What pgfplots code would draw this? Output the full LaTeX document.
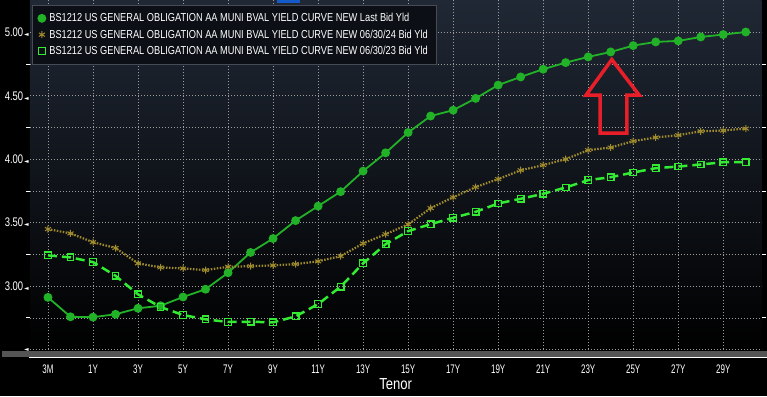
\documentclass[border=0pt]{standalone}
\usepackage{fontspec}
\setmainfont{Liberation Sans}[FakeStretch=0.82]
\newfontfamily\legfont{Liberation Sans}[FakeStretch=0.80]
\newfontfamily\yfont{Liberation Sans}[FakeStretch=0.76]
\newfontfamily\xfont{Liberation Sans}[FakeStretch=0.64]
\newfontfamily\dejavu{DejaVu Sans}
\usepackage{pgfplots}
\usepackage{pgfplotstable}
\pgfplotsset{compat=1.18}

\definecolor{mainG}{RGB}{34,178,40}
\definecolor{yel}{RGB}{160,140,45}
\definecolor{dashG}{RGB}{50,235,50}
\definecolor{bgTop}{RGB}{32,40,53}
\definecolor{gridc}{RGB}{155,155,155}
\definecolor{legfill}{RGB}{12,16,22}
\definecolor{legdraw}{RGB}{70,75,85}
\definecolor{arrowRed}{RGB}{232,30,40}
\definecolor{barGray}{RGB}{85,85,85}
\definecolor{topBlue}{RGB}{20,90,200}

\newcommand{\tri}{{\dejavu\fontsize{6}{6}\selectfont\,◄}}

% index: 0=3M, 1=6M, 2=1Y, n = (n-1)Y
\pgfplotstableread{
i v
0 2.911
1 2.758
2 2.755
3 2.778
4 2.825
5 2.845
6 2.914
7 2.975
8 3.105
9 3.265
10 3.375
11 3.516
12 3.630
13 3.744
14 3.906
15 4.050
16 4.210
17 4.340
18 4.386
19 4.479
20 4.584
21 4.648
22 4.709
23 4.761
24 4.806
25 4.845
26 4.895
27 4.924
28 4.932
29 4.963
30 4.982
31 5.002
}\lastT

\pgfplotstableread{
i v
0 3.449
1 3.415
2 3.346
3 3.300
4 3.179
5 3.147
6 3.139
7 3.126
8 3.152
9 3.157
10 3.163
11 3.173
12 3.195
13 3.236
14 3.336
15 3.409
16 3.486
17 3.614
18 3.700
19 3.780
20 3.843
21 3.913
22 3.953
23 4.000
24 4.071
25 4.092
26 4.142
27 4.171
28 4.189
29 4.220
30 4.226
31 4.241
}\yrA

\pgfplotstableread{
i v
0 3.242
1 3.226
2 3.189
3 3.081
4 2.935
5 2.835
6 2.772
7 2.738
8 2.717
9 2.719
10 2.714
11 2.761
12 2.858
13 2.995
14 3.179
15 3.330
16 3.433
17 3.488
18 3.538
19 3.585
20 3.651
21 3.688
22 3.727
23 3.777
24 3.835
25 3.858
26 3.895
27 3.929
28 3.942
29 3.958
30 3.976
31 3.976
}\yrB

\begin{document}
\begin{tikzpicture}
\fill[black] (-30bp,-44bp) rectangle (737bp,352bp);
\begin{axis}[
  at={(0,0)}, anchor=south west,
  scale only axis, width=732bp, height=352bp,
  xmin=-0.8, xmax=31.7, ymin=2.48, ymax=5.252,
  axis background/.style={top color=bgTop, bottom color=black},
  axis line style={draw=none},
  /pgf/number format/assume math mode=true,
  xtick={0,2,...,30},
  xticklabels={3M,1Y,3Y,5Y,7Y,9Y,11Y,13Y,15Y,17Y,19Y,21Y,23Y,25Y,27Y,29Y},
  ytick={2.5,3,3.5,4,4.5,5},
  yticklabels={{\tri},{3.00\tri},{3.50\tri},{4.00\tri},{4.50\tri},{5.00\tri}},
  minor ytick={2.75,3.25,3.75,4.25,4.75},
  tick align=outside,
  major tick length=0pt,
  minor tick length=4bp,
  minor tick style={white, line width=0.8bp},
  grid=both,
  major grid style={gridc, dash pattern=on 1bp off 2bp, line width=0.6bp},
  minor grid style={gridc, dash pattern=on 1bp off 2bp, line width=0.6bp},
  xticklabel style={text=white, font=\xfont\fontsize{12.5}{14}\selectfont, yshift=-9bp},
  yticklabel style={text=white, font=\yfont\fontsize{12.5}{14}\selectfont, inner xsep=1bp},
  xlabel={Tenor},
  xlabel style={text=white, font=\fontsize{16}{18}\selectfont, at={(axis description cs:0.5,0)}, anchor=center, yshift=-32bp},
  legend cell align=left,
  legend style={at={(0.003,0.986)}, anchor=north west, fill=legfill, draw=legdraw,
    text=white, font=\legfont\fontsize{11.6}{13}\selectfont, row sep=2.5bp, column sep=2bp,
    inner xsep=6bp, inner ysep=6bp},
  legend image code/.code={\draw[#1, solid] plot coordinates {(0bp,0bp)};},
]
\addplot[mainG, line width=1.8bp, mark=*, mark size=3.5bp, mark options={solid}] table[x=i,y=v]{\lastT};
\addlegendentry{BS1212 US GENERAL OBLIGATION AA MUNI BVAL YIELD CURVE NEW Last Bid Yld}
\addplot[yel, line width=2.2bp, dash pattern=on 1.5bp off 1.5bp, mark=asterisk, mark size=3.5bp, mark options={solid, line width=1bp}] table[x=i,y=v]{\yrA};
\addlegendentry{BS1212 US GENERAL OBLIGATION AA MUNI BVAL YIELD CURVE NEW 06/30/24 Bid Yld}
\addplot[dashG, line width=2.5bp, dash pattern=on 9bp off 5bp, mark=square, mark size=3.3bp, mark options={solid, line width=1.3bp, fill=none}] table[x=i,y=v]{\yrB};
\addlegendentry{BS1212 US GENERAL OBLIGATION AA MUNI BVAL YIELD CURVE NEW 06/30/23 Bid Yld}
\draw[arrowRed, line width=3.5bp, line join=miter]
  (axis cs:24.53,4.205) -- (axis cs:24.53,4.504) -- (axis cs:23.9,4.504) --
  (axis cs:25.05,4.785) -- (axis cs:26.27,4.504) -- (axis cs:25.72,4.504) --
  (axis cs:25.72,4.205) -- cycle;
\end{axis}
\fill[barGray] (-28bp,-5bp) rectangle (737bp,1bp);
\draw[white, line width=1bp] (-1bp,-5.5bp) -- (737bp,-5.5bp);
\fill[topBlue] (247bp,349bp) rectangle (270bp,352bp);
\end{tikzpicture}
\end{document}
